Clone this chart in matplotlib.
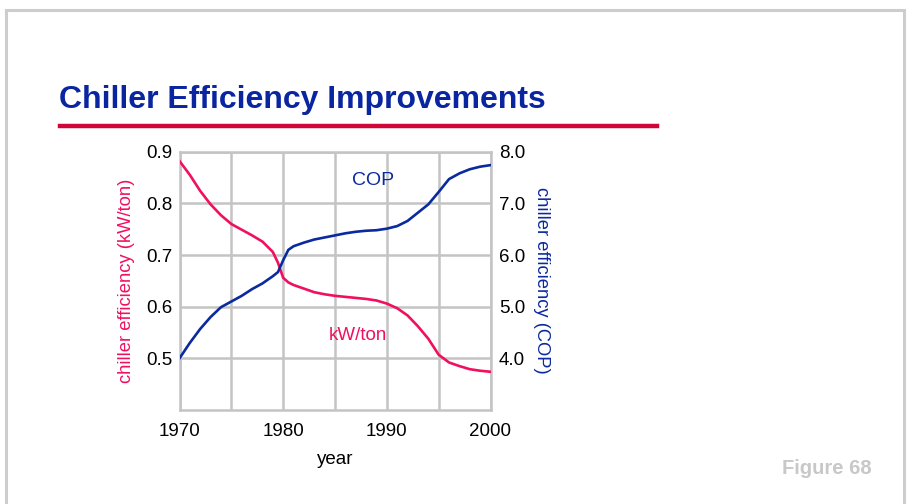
import matplotlib.pyplot as plt
from matplotlib.patches import Rectangle
from matplotlib.lines import Line2D

plt.rcParams['font.family'] = ['Liberation Sans', 'DejaVu Sans']

# chiller efficiency by year
years = [1970, 1971, 1972, 1973, 1974, 1975, 1976, 1977, 1978, 1979, 1979.5,
         1980, 1980.5, 1981, 1982, 1983, 1984, 1985, 1986, 1987, 1988, 1989,
         1990, 1991, 1992, 1993, 1994, 1995, 1996, 1997, 1998, 1999, 2000]
kw_per_ton = [0.882, 0.855, 0.824, 0.798, 0.777, 0.760, 0.749, 0.738, 0.726, 0.706, 0.685,
              0.656, 0.647, 0.642, 0.635, 0.628, 0.624, 0.621, 0.619, 0.617, 0.615, 0.612,
              0.606, 0.597, 0.583, 0.562, 0.538, 0.507, 0.492, 0.485, 0.479, 0.476, 0.474]
cop = [4.0, 4.3, 4.57, 4.8, 4.99, 5.1, 5.21, 5.34, 5.45, 5.59, 5.67,
       5.9, 6.1, 6.17, 6.24, 6.3, 6.34, 6.38, 6.42, 6.45, 6.47, 6.48,
       6.51, 6.56, 6.66, 6.82, 6.98, 7.22, 7.47, 7.58, 7.66, 7.71, 7.74]

x_ticks = [1970, 1980, 1990, 2000]
left_ticks = [0.5, 0.6, 0.7, 0.8, 0.9]
right_ticks = [4.0, 5.0, 6.0, 7.0, 8.0]

PINK = '#F0105F'
BLUE = '#0A2A9E'
GRID = '#C4C4C4'

fig = plt.figure(figsize=(9.09, 5.04), dpi=100)

# page border and title rule
fig.patches.append(Rectangle((6 / 909, -0.05), 898 / 909, 1.05 - 10 / 504,
                             transform=fig.transFigure, fill=False,
                             edgecolor='#CDCDCD', linewidth=2.2))
fig.text(59 / 909, 1 - 100 / 504, 'Chiller Efficiency Improvements',
         fontsize=23, fontweight='bold', color='#0A25A0', va='center', ha='left')
fig.lines.append(Line2D([60 / 909, 657 / 909], [1 - 126 / 504] * 2,
                        transform=fig.transFigure, color='#D0063A', linewidth=3.2))
fig.text(872 / 909, 1 - 468 / 504, 'Figure 68', fontsize=14.5, fontweight='bold',
         color='#C8C8C8', ha='right', va='center')

ax = fig.add_axes([179.5 / 909, 1 - 410 / 504, 311 / 909, 258.3 / 504])
ax.set_xlim(1970, 2000)
ax.set_ylim(0.4, 0.9)
ax.set_xticks(x_ticks)
ax.set_xticks(range(1970, 2001, 5), minor=True)
ax.set_yticks(left_ticks)
ax.set_yticklabels([f'{v:.1f}' for v in left_ticks])
ax.grid(True, which='both', axis='x', color=GRID, linewidth=1.8)
ax.grid(True, axis='y', color=GRID, linewidth=1.8)
ax.tick_params(which='both', length=0, labelsize=13.5)
ax.tick_params(axis='x', pad=9)
ax.tick_params(axis='y', pad=5)
for s in ax.spines.values():
    s.set_color(GRID)
    s.set_linewidth(1.8)
ax.set_axisbelow(True)
ax.plot(years, kw_per_ton, color=PINK, linewidth=1.9, zorder=3)
ax.set_ylabel('chiller efficiency (kW/ton)', color=PINK, fontsize=13.2, labelpad=8)
ax.set_xlabel('year', fontsize=13.5, labelpad=8)

ax2 = ax.twinx()
ax2.set_ylim(3.0, 8.0)
ax2.set_yticks(right_ticks)
ax2.set_yticklabels([f'{v:.1f}' for v in right_ticks])
ax2.tick_params(length=0, labelsize=13.5, pad=6)
for s in ax2.spines.values():
    s.set_visible(False)
ax2.plot(years, cop, color=BLUE, linewidth=1.9, zorder=3)
ax2.set_ylabel('chiller efficiency (COP)', color=BLUE, fontsize=13.2,
               rotation=-90, labelpad=18)

ax.text(1987.2, 0.545, 'kW/ton', color=PINK, fontsize=13.5,
        ha='center', va='center')
ax2.text(1988.7, 7.45, 'COP', color=BLUE, fontsize=14,
         ha='center', va='center')

fig.savefig('out.png', dpi=100)
